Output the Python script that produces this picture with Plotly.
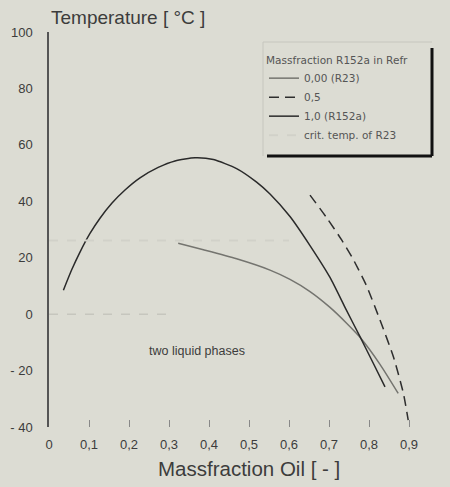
import plotly.graph_objects as go

# ---- data ----
r23_x = [0.323, 0.386, 0.469, 0.5525, 0.6025, 0.6525, 0.7025, 0.744, 0.7775, 0.8275, 0.873]
r23_y = [25.1, 22.8, 19.6, 15.6, 12.3, 8.0, 2.4, -3.2, -8.2, -17.8, -28.1]

half_x = [0.6525, 0.694, 0.732, 0.761, 0.794, 0.8275, 0.861, 0.886, 0.898]
half_y = [42.2, 34.2, 26.2, 19.3, 10.0, -2.1, -15.1, -28.1, -37.6]

r152a_x = [0.036, 0.057, 0.0775, 0.1025, 0.1275, 0.157, 0.19, 0.2275, 0.273, 0.315,
           0.365, 0.411, 0.469, 0.519, 0.5525, 0.6025, 0.6525, 0.7025, 0.74,
           0.7775, 0.811, 0.84]
r152a_y = [8.5, 15.8, 22.0, 28.6, 34.0, 39.3, 44.0, 48.3, 52.0, 54.3,
           55.4, 54.8, 51.6, 46.8, 42.6, 34.6, 24.3, 13.0, 2.4,
           -8.0, -17.5, -25.8]

crit_x = [0.0, 0.6]
crit_y = [26.1, 26.1]

x_ticks = [0, 0.1, 0.2, 0.3, 0.4, 0.5, 0.6, 0.7, 0.8, 0.9, 1.0]
x_ticktext = ["0", "0,1", "0,2", "0,3", "0,4", "0,5", "0,6", "0,7", "0,8", "0,9", "1"]
y_ticks = [-40, -20, 0, 20, 40, 60, 80, 100]
y_ticktext = ["- 40", "- 20", "0", "20", "40", "60", "80", "100"]

bg = "#dcdcd3"
txt = "#3c3c3c"
font = "Liberation Sans, Arial, sans-serif"
lfont = "DejaVu Sans, sans-serif"
sm = 0.6

fig = go.Figure()
fig.add_trace(go.Scatter(x=r23_x, y=r23_y, mode="lines", name="0,00 (R23)",
                         line=dict(color="#74746f", width=1.5, shape="spline", smoothing=sm)))
fig.add_trace(go.Scatter(x=half_x, y=half_y, mode="lines", name="0,5",
                         line=dict(color="#2e2e2e", width=1.5, dash="10px,6px", shape="spline",
                                   smoothing=sm)))
fig.add_trace(go.Scatter(x=r152a_x, y=r152a_y, mode="lines", name="1,0 (R152a)",
                         line=dict(color="#2a2a2a", width=1.5, shape="spline", smoothing=sm)))
fig.add_trace(go.Scatter(x=crit_x, y=crit_y, mode="lines", name="crit. temp. of R23",
                         line=dict(color="#d1d1c9", width=2, dash="dash")))

# legend frame: faint top/left, thick right/bottom
lx0, lx1 = (263 - 49) / 400, (432 - 49) / 400
ly0, ly1 = (427 - 156) / 395, (427 - 42) / 395
shapes = [
    dict(type="line", xref="paper", yref="paper", x0=lx0, x1=lx1, y0=ly1, y1=ly1,
         line=dict(color="#c6c6be", width=1)),
    dict(type="line", xref="paper", yref="paper", x0=lx0, x1=lx0, y0=ly0, y1=ly1,
         line=dict(color="#c6c6be", width=1)),
    dict(type="line", xref="paper", yref="paper", x0=lx1, x1=lx1, y0=ly0, y1=(427 - 48) / 395,
         line=dict(color="#111", width=3)),
    dict(type="line", xref="paper", yref="paper", x0=(267 - 49) / 400, x1=lx1, y0=ly0, y1=ly0,
         line=dict(color="#111", width=3)),
    dict(type="line", xref="x", yref="y", x0=0.0, x1=0.3, y0=0, y1=0,
         line=dict(color="#c6c6be", width=1.5, dash="dash")),
]

fig.update_layout(
    width=450, height=487,
    margin=dict(l=49, r=1, t=32, b=60, autoexpand=False),
    paper_bgcolor=bg, plot_bgcolor=bg,
    font=dict(family=font, color=txt),
    showlegend=True,
    legend=dict(x=(264 - 49) / 400, y=(427 - 50) / 395, xanchor="left", yanchor="top",
                bgcolor="rgba(0,0,0,0)", borderwidth=0,
                font=dict(size=10.5, color="#555", family=lfont),
                title=dict(text="Massfraction R152a in Refr",
                           font=dict(size=10.5, color="#555", family=lfont)),
                tracegroupgap=0),
    shapes=shapes,
    xaxis=dict(range=[0, 1], tickvals=x_ticks, ticktext=x_ticktext, ticks="inside",
               ticklen=7, tickcolor="#888", showgrid=False, zeroline=False, showline=False,
               tickfont=dict(size=13, color=txt), ticklabelstandoff=8, automargin=False),
    yaxis=dict(range=[-40, 100], tickvals=y_ticks, ticktext=y_ticktext, ticks="",
               showgrid=False, zeroline=False, showline=True, linecolor="#555", linewidth=1.5,
               tickfont=dict(size=13, color=txt), ticklabelstandoff=12, automargin=False),
    annotations=[
        dict(text="Temperature [ °C ]", xref="paper", yref="paper", x=0.0, y=(427 - 17) / 395,
             xanchor="left", yanchor="middle", showarrow=False, font=dict(size=19, color=txt)),
        dict(text="Massfraction Oil [ - ]", xref="paper", yref="paper", x=0.5, y=(427 - 469) / 395,
             xanchor="center", yanchor="middle", showarrow=False, font=dict(size=20.5, color=txt)),
        dict(text="two liquid phases", xref="x", yref="y", x=0.245, y=-13,
             xanchor="left", yanchor="middle", showarrow=False, font=dict(size=12.5, color=txt)),
    ],
)

fig.write_html("out.html", config={"displayModeBar": False},
               post_script="document.body.style.margin='0';")
